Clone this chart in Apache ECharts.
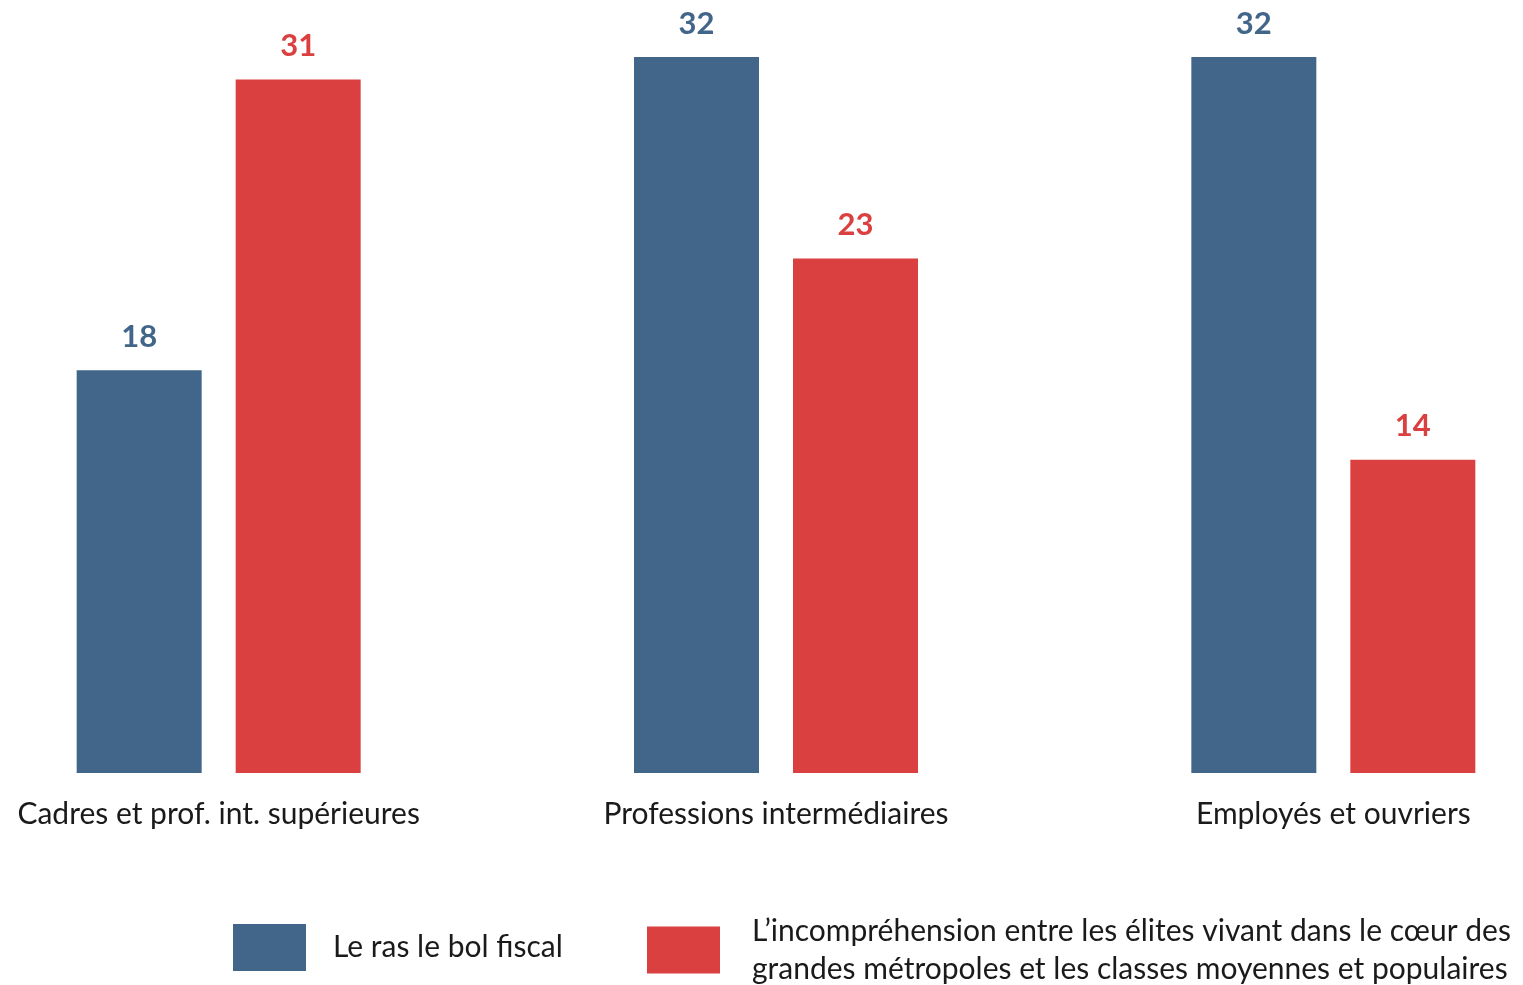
<!DOCTYPE html>
<html>
<head>
<meta charset="utf-8">
<script src="https://cdn.jsdelivr.net/npm/echarts@6/dist/echarts.min.js"></script>
<style>
  html, body { margin: 0; padding: 0; background: #fff; overflow: hidden; }
  /* le graphique déborde à gauche et à droite comme dans l'original */
  #chart { width: 1672px; height: 985px; margin-left: -60px; }
</style>
</head>
<body>
<div id="chart"></div>
<script>
// données
var categories = ['Cadres et prof. int. supérieures', 'Professions intermédiaires', 'Employés et ouvriers'];
var serieFiscal = [18, 32, 32];
var serieElites = [31, 23, 14];
var nomFiscal = 'Le ras le bol fiscal';
var nomElites = 'L\u2019incompréhension entre les élites vivant dans le cœur des\ngrandes métropoles et les classes moyennes et populaires';

var BLEU = '#41668a';
var ROUGE = '#db4040';
var FONT = 'Lato, "Open Sans", sans-serif';
var DX = 60; // décalage du conteneur

var chart = echarts.init(document.getElementById('chart'));

var option = {
  animation: false,
  textStyle: { fontFamily: FONT },
  grid: { left: 0, right: 0, top: 57, bottom: 212 },
  legend: [{
    left: 233 + DX, top: 924,
    padding: 0,
    data: [nomFiscal],
    itemWidth: 73, itemHeight: 47,
    icon: 'rect',
    textStyle: { fontSize: 30, color: '#1a1a1a', padding: [0, 0, 0, 22], fontFamily: FONT }
  }, {
    left: 647 + DX, top: 912,
    padding: 0,
    data: [nomElites],
    itemWidth: 73, itemHeight: 47,
    icon: 'rect',
    textStyle: { fontSize: 30, color: '#1a1a1a', lineHeight: 38, padding: [0, 0, 0, 27], fontFamily: FONT }
  }],
  xAxis: {
    type: 'category',
    data: categories,
    axisLine: { show: false },
    axisTick: { show: false },
    axisLabel: { fontSize: 30, color: '#1a1a1a', margin: 26, interval: 0 }
  },
  yAxis: {
    type: 'value',
    min: 0, max: 32,
    show: false,
    splitLine: { show: false }
  },
  series: [{
    name: nomFiscal,
    type: 'bar',
    data: serieFiscal,
    barWidth: 125,
    barGap: '27.2%',
    itemStyle: { color: BLEU },
    label: { show: true, position: 'top', distance: 18, color: BLEU, fontSize: 31, fontWeight: 'bold' }
  }, {
    name: nomElites,
    type: 'bar',
    data: serieElites,
    barWidth: 125,
    itemStyle: { color: ROUGE },
    label: { show: true, position: 'top', distance: 18, color: ROUGE, fontSize: 31, fontWeight: 'bold' }
  }]
};

chart.setOption(option);
</script>
</body>
</html>
